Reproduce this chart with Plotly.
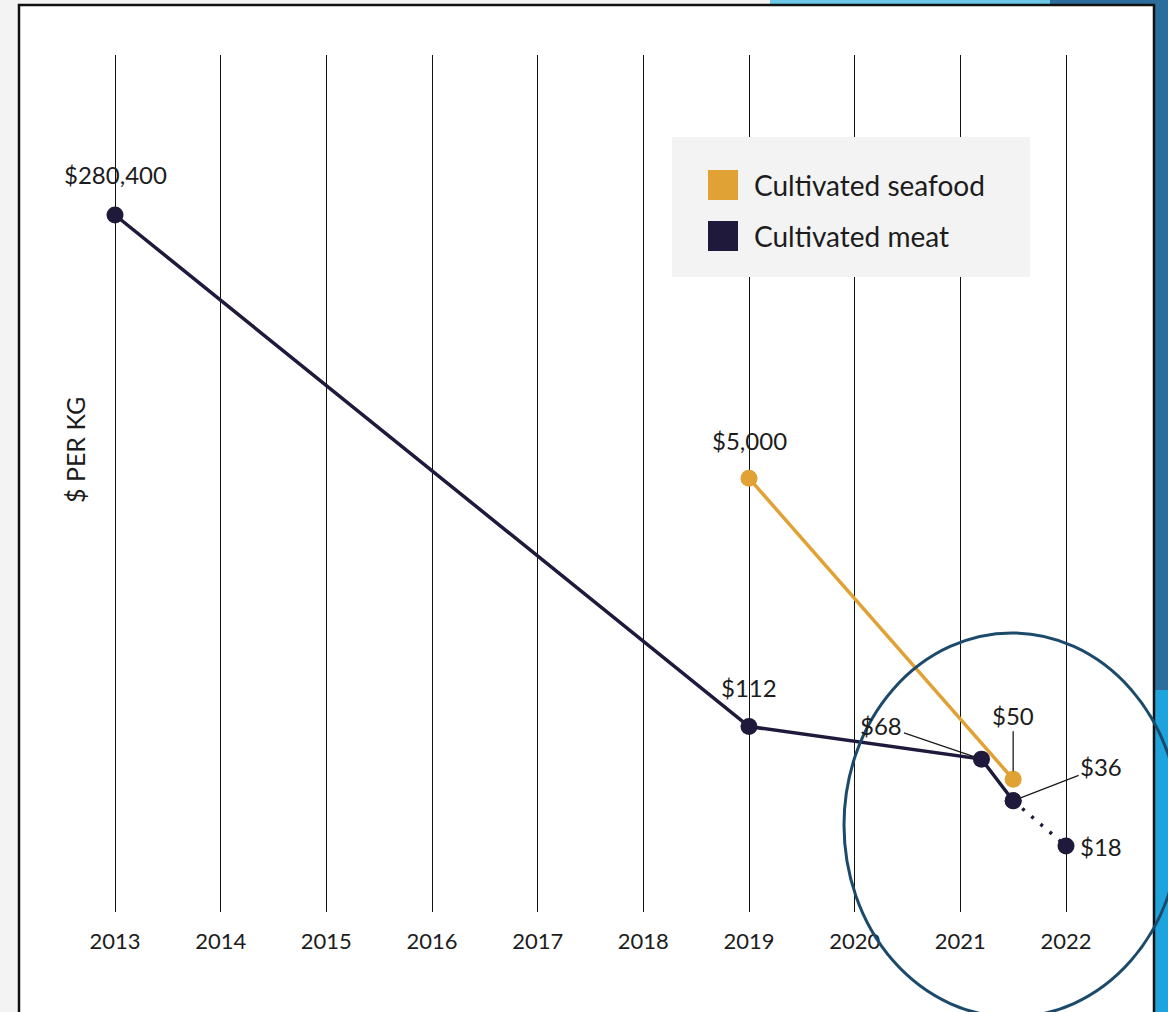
import math
import plotly.graph_objects as go

# ---------------- data ----------------
years = [2013, 2014, 2015, 2016, 2017, 2018, 2019, 2020, 2021, 2022]
year_labels = [str(y) for y in years]

meat_name = "Cultivated meat"
meat_x = [2013, 2019, 2021.2, 2021.5]
meat_y = [280400, 112, 68, 36]
meat_labels = ["$280,400", "$112", "$68", "$36"]

meat_proj_x = [2021.5, 2022]
meat_proj_y = [36, 18]
meat_proj_labels = ["", "$18"]

sea_name = "Cultivated seafood"
sea_x = [2019, 2021.5]
sea_y = [5000, 50]
sea_labels = ["$5,000", "$50"]

y_title = "$ PER KG"

# ---------------- style ----------------
W, H = 1168, 1012
MEAT = "#1f1a3b"
SEA = "#e0a235"
TXT = "#1c1c1c"
FONT = "Lato"


def px(x):
    return x / W


def py(y):
    return 1 - y / H


def ly(v):
    # annotations on a log axis are positioned in log10 units
    return math.log10(v)


fig = go.Figure()

fig.add_trace(go.Scatter(
    x=sea_x, y=sea_y, mode="lines+markers", name=sea_name, showlegend=False,
    line=dict(color=SEA, width=3.5), marker=dict(color=SEA, size=17),
    hoverinfo="skip", cliponaxis=False))
fig.add_trace(go.Scatter(
    x=meat_proj_x, y=meat_proj_y, mode="lines+markers", name=meat_name, showlegend=False,
    line=dict(color=MEAT, width=3.5, dash="3px,9px"), marker=dict(color=MEAT, size=17),
    hoverinfo="skip", cliponaxis=False))
fig.add_trace(go.Scatter(
    x=meat_x, y=meat_y, mode="lines+markers", name=meat_name, showlegend=False,
    line=dict(color=MEAT, width=3.5), marker=dict(color=MEAT, size=17),
    hoverinfo="skip", cliponaxis=False))

ann = []
lab_font = dict(family=FONT, size=24, color=TXT)

# labels above points
ann.append(dict(x=meat_x[0], y=ly(meat_y[0]), yref="y", xref="x", text=meat_labels[0],
                showarrow=False, yshift=40, font=lab_font))
ann.append(dict(x=meat_x[1], y=ly(meat_y[1]), yref="y", xref="x", text=meat_labels[1],
                showarrow=False, yshift=39, font=lab_font))
ann.append(dict(x=sea_x[0], y=ly(sea_y[0]), yref="y", xref="x", text=sea_labels[0],
                showarrow=False, yshift=38, font=lab_font))
# leader-line labels
ann.append(dict(x=meat_x[2], y=ly(meat_y[2]), xref="x", yref="y", text=meat_labels[2],
                showarrow=True, arrowhead=0, arrowwidth=1.3, arrowcolor=TXT,
                ax=-100, ay=-34, standoff=8, font=lab_font))
ann.append(dict(x=sea_x[1], y=ly(sea_y[1]), xref="x", yref="y", text=sea_labels[1],
                showarrow=True, arrowhead=0, arrowwidth=1.3, arrowcolor=TXT,
                ax=0, ay=-64, standoff=8, font=lab_font))
ann.append(dict(x=meat_x[3], y=ly(meat_y[3]), xref="x", yref="y", text=meat_labels[3],
                showarrow=True, arrowhead=0, arrowwidth=1.3, arrowcolor=TXT,
                ax=88, ay=-34, standoff=8, font=lab_font))
ann.append(dict(x=meat_proj_x[1], y=ly(meat_proj_y[1]), xref="x", yref="y",
                text=meat_proj_labels[1], showarrow=False, xshift=35, font=lab_font))

# y-axis title
ann.append(dict(x=px(75), y=py(450), xref="paper", yref="paper", text=y_title,
                textangle=-90, showarrow=False, xanchor="center", yanchor="middle",
                font=dict(family=FONT, size=25, color=TXT)))

# manual legend
leg_font = dict(family=FONT, size=28, color=TXT)
ann.append(dict(x=px(752), y=py(185), xref="paper", yref="paper", text=sea_name,
                showarrow=False, xanchor="left", yanchor="middle", font=leg_font))
ann.append(dict(x=px(752), y=py(236), xref="paper", yref="paper", text=meat_name,
                showarrow=False, xanchor="left", yanchor="middle", font=leg_font))

shapes = [
    # top stripes
    dict(type="rect", xref="paper", yref="paper", x0=px(770), x1=px(1050), y0=py(6), y1=py(0),
         fillcolor="#6cc7e6", line=dict(width=0), layer="below"),
    dict(type="rect", xref="paper", yref="paper", x0=px(1050), x1=px(1168), y0=py(6), y1=py(0),
         fillcolor="#2b6e9e", line=dict(width=0), layer="below"),
    dict(type="rect", xref="paper", yref="paper", x0=px(1153), x1=px(1168), y0=py(690), y1=py(0),
         fillcolor="#2b6e9e", line=dict(width=0), layer="below"),
    dict(type="rect", xref="paper", yref="paper", x0=px(1153), x1=px(1168), y0=py(1012), y1=py(690),
         fillcolor="#1fa3dc", line=dict(width=0), layer="below"),
    # white box with border
    dict(type="rect", xref="paper", yref="paper", x0=px(19), x1=px(1154), y0=py(1030), y1=py(5),
         fillcolor="white", line=dict(color="#111111", width=2.5), layer="below"),
    # legend box
    dict(type="rect", xref="paper", yref="paper", x0=px(672), x1=px(1030), y0=py(277), y1=py(137),
         fillcolor="#f3f3f3", line=dict(width=0), layer="above"),
    dict(type="rect", xref="paper", yref="paper", x0=px(708), x1=px(738), y0=py(200), y1=py(170),
         fillcolor=SEA, line=dict(width=0), layer="above"),
    dict(type="rect", xref="paper", yref="paper", x0=px(708), x1=px(738), y0=py(251), y1=py(221),
         fillcolor=MEAT, line=dict(width=0), layer="above"),
    # highlight circle
    dict(type="circle", xref="paper", yref="paper", x0=px(1012 - 168), x1=px(1012 + 168),
         y0=py(825 + 192), y1=py(825 - 192), line=dict(color="#1b4a6b", width=3),
         fillcolor="rgba(0,0,0,0)", layer="above"),
]

pxyr = (1066 - 115) / 9.0
dom_left = 90
fig.update_layout(
    template="none",
    width=W, height=H,
    margin=dict(l=0, r=0, t=0, b=0, pad=0),
    paper_bgcolor="#f3f3f3",
    plot_bgcolor="rgba(0,0,0,0)",
    showlegend=False,
    font=dict(family=FONT, color=TXT),
    xaxis=dict(
        domain=[px(dom_left), 1],
        range=[2013 - (115 - dom_left) / pxyr, 2013 + (W - 115) / pxyr],
        tickvals=years, ticktext=year_labels,
        showgrid=True, gridcolor="#111111", gridwidth=1.2,
        zeroline=False, showline=False, ticks="",
        tickfont=dict(family=FONT, size=22, color=TXT),
        ticklabelstandoff=14, automargin=False, fixedrange=True,
    ),
    yaxis=dict(
        type="log",
        domain=[py(912), py(55)],
        range=[0.8168, 6.5108],
        showgrid=False, zeroline=False, showline=False, ticks="",
        showticklabels=False, automargin=False, fixedrange=True,
    ),
    annotations=ann,
    shapes=shapes,
)

fig.write_html("out.html")
